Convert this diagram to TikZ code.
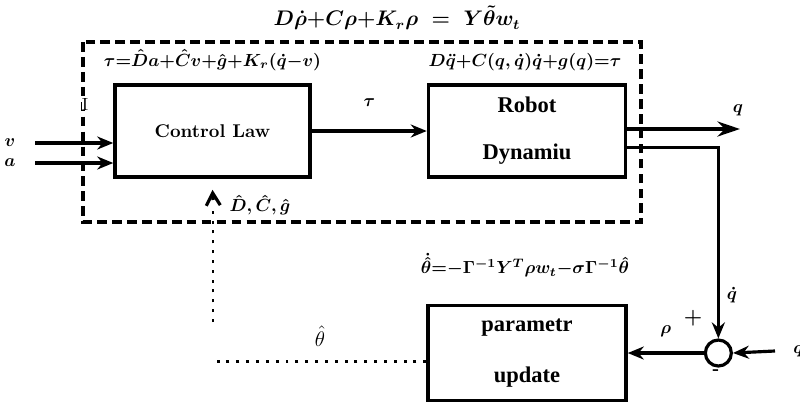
\documentclass[tikz,border=0pt]{standalone}
\usepackage{amsmath,amssymb}
\usepackage{fontspec}
\newfontfamily\blockfont{Liberation Serif}
\usetikzlibrary{positioning,arrows.meta}

\begin{document}
\begin{tikzpicture}[
  node distance=2.3cm,
  block/.style={draw, line width=2pt, minimum width=3.9cm,
                minimum height=1.84cm, align=center, inner sep=0pt},
  tbold/.style={font=\blockfont\bfseries\fontsize{12.8}{14}\selectfont},
  eqn/.style  ={font=\boldmath\fontsize{10.3}{12}\selectfont, inner sep=0pt},
  lbl/.style  ={font=\boldmath\normalsize, inner sep=0pt},
  arr/.style  ={-{Stealth[length=3.2mm,width=2.6mm]}, line width=1.8pt},
  dotline/.style={line width=1.7pt, dash pattern=on 1.7pt off 3.9pt},
  dashbox/.style={line width=2pt, dash pattern=on 5.5pt off 3pt},
  sumnode/.style={draw, circle, line width=1.8pt, minimum size=5.2mm, inner sep=0pt}
]
\useasboundingbox (0,0) rectangle (16,-8.02);

% blocks
\node[block, font=\bfseries\fontsize{10.5}{12}\selectfont] (law) at (4.25,-2.62) {Control Law};
\node[block, tbold, right=2.3cm of law, minimum width=3.94cm] (robot) {Robot\\[12.7pt]Dynamiu};
\node[block, tbold, below=2.5cm of robot, minimum width=3.96cm, minimum height=1.9cm] (param) {parametr\\[15pt]update};
\node[sumnode, right=1.52cm of param] (sum) {};

% equations
\node[eqn, font=\boldmath\fontsize{12}{14}\selectfont] (eqerr) at (7.94,-0.36) {$D\dot{\rho}{+}C\rho{+}K_r\rho\;=\;Y\tilde{\theta}w_t$};
\node[eqn] (eqlaw) at (4.25,-1.2) {$\tau{=}\hat{D}a{+}\hat{C}v{+}\hat{g}{+}K_r(\dot{q}{-}v)$};
\node[eqn] (eqrob) at (10.5,-1.24) {$D\ddot{q}{+}C(q,\dot{q})\dot{q}{+}g(q){=}\tau$};
\node[eqn, font=\boldmath\fontsize{9.8}{12}\selectfont] (equpd) at (10.5,-5.3) {$\dot{\hat{\theta}}{=}{-}\Gamma^{-1}Y^T\rho w_t{-}\sigma\Gamma^{-1}\hat{\theta}$};

% controller boundary
\draw[dashbox] (1.66,-0.84) rectangle (12.82,-4.44);
\node[inner sep=0pt, fill=white] (mark) at (1.7,-2.08) {I};

% inputs
\coordinate (vin) at (0.7,-2.86);
\coordinate (ain) at (0.7,-3.26);
\node[lbl] (vlbl) at (0.2,-2.86) {$v$};
\node[lbl] (albl) at (0.2,-3.26) {$a$};
\draw[arr] (vin) -- (vin -| law.west);
\draw[arr] (ain) -- (ain -| law.west);

% forward path
\draw[arr] (law) -- node[lbl, above=0.45cm] (tau) {$\tau$} (robot);
\coordinate (qout) at (14.8,-2.58);
\draw[-{Stealth[length=4.5mm,width=3mm]}, line width=2.4pt] (robot.east |- qout) -- (qout);
\node[lbl] (qlbl) at (14.76,-2.2) {$q$};

% feedback
\draw[arr] ([yshift=-3.3mm]robot.east) -| (sum.north);
\node[lbl] (qdot) at (14.64,-5.9) {$\dot{q}$};
\coordinate (qdin) at (15.5,-7.02);
\draw[arr] (qdin) -- (sum.east);
\node[lbl, anchor=west] (qdlbl) at (15.86,-7.02) {$q_d$};
\node[font=\bfseries\large, inner sep=0pt] (plus) at (13.86,-6.36) {+};
\node[font=\bfseries, inner sep=0pt] (minus) at (14.32,-7.44) {-};
\draw[arr] (sum.west) -- node[lbl, above=0.3cm] (rho) {$\rho$} (param.east);

% estimate path
\coordinate (thl) at (4.26,-7.22);
\coordinate (thv) at (4.26,-6.44);
\draw[dotline] (thl -| param.west) -- (thl);
\node[inner sep=0pt, font=\large] (thlbl) at (6.4,-6.72) {$\hat{\theta}$};
\draw[dotline] (thv) -- (4.26,-4.1);
\draw[-{Straight Barb[length=2.5mm,width=2.8mm]}, line width=1.8pt] (4.26,-4.0) -- ([yshift=-2.2mm]law.south);
\node[lbl] (dcg) at (5.2,-4.1) {$\hat{D},\hat{C},\hat{g}$};
\end{tikzpicture}
\end{document}
